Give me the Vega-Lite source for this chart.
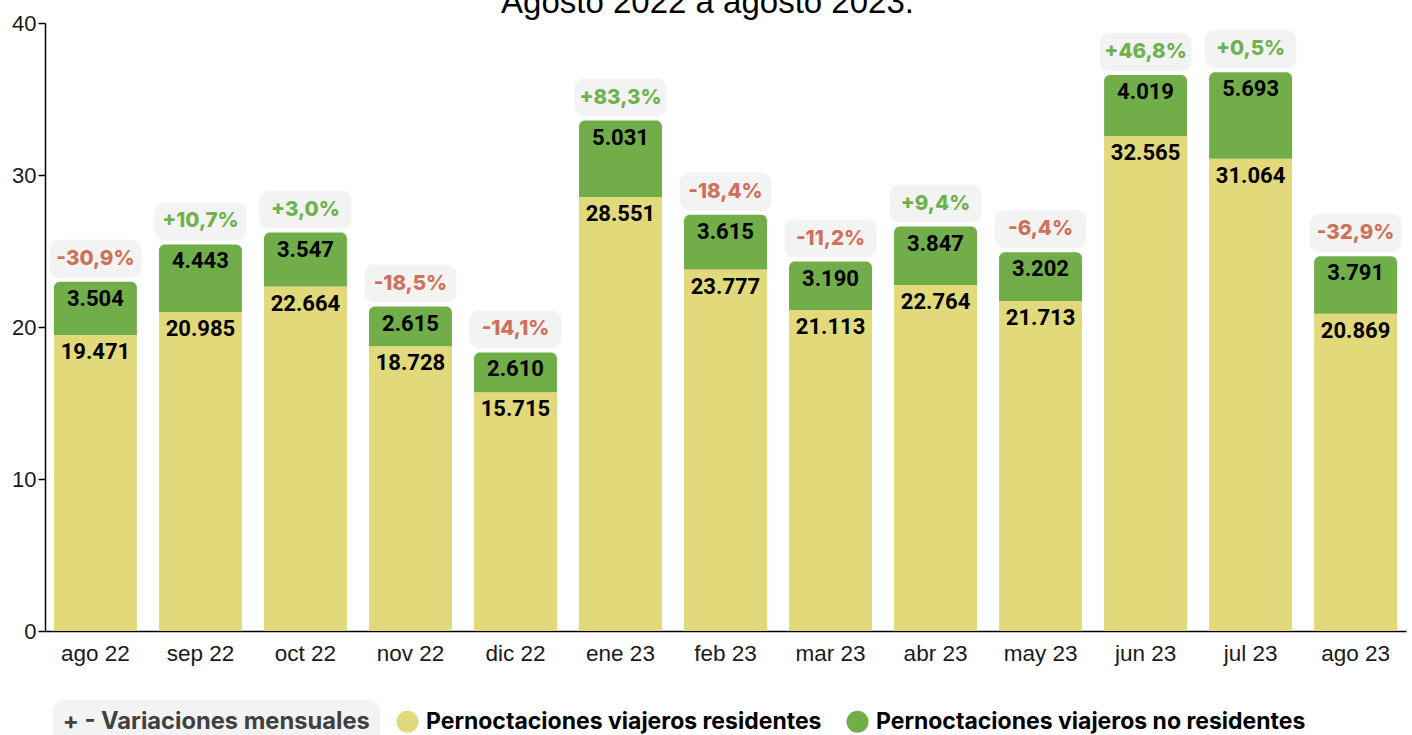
{
  "$schema": "https://vega.github.io/schema/vega-lite/v6.json",
  "width": 1361,
  "height": 608,
  "autosize": {"type": "none"},
  "padding": {"left": 45, "top": 23, "right": 6, "bottom": 104},
  "title": {
    "text": "Agosto 2022 a agosto 2023.",
    "font": "Liberation Sans",
    "fontSize": 33,
    "fontWeight": "normal",
    "color": "#000000",
    "anchor": "middle",
    "baseline": "alphabetic",
    "offset": 0,
    "dx": -18,
    "dy": 34
  },
  "data": {
    "values": [
      {"mes": "ago 22", "tipo": "Pernoctaciones viajeros residentes", "value": 19471, "var": -0.309},
      {"mes": "ago 22", "tipo": "Pernoctaciones viajeros no residentes", "value": 3504, "var": -0.309},
      {"mes": "sep 22", "tipo": "Pernoctaciones viajeros residentes", "value": 20985, "var": 0.107},
      {"mes": "sep 22", "tipo": "Pernoctaciones viajeros no residentes", "value": 4443, "var": 0.107},
      {"mes": "oct 22", "tipo": "Pernoctaciones viajeros residentes", "value": 22664, "var": 0.030},
      {"mes": "oct 22", "tipo": "Pernoctaciones viajeros no residentes", "value": 3547, "var": 0.030},
      {"mes": "nov 22", "tipo": "Pernoctaciones viajeros residentes", "value": 18728, "var": -0.185},
      {"mes": "nov 22", "tipo": "Pernoctaciones viajeros no residentes", "value": 2615, "var": -0.185},
      {"mes": "dic 22", "tipo": "Pernoctaciones viajeros residentes", "value": 15715, "var": -0.141},
      {"mes": "dic 22", "tipo": "Pernoctaciones viajeros no residentes", "value": 2610, "var": -0.141},
      {"mes": "ene 23", "tipo": "Pernoctaciones viajeros residentes", "value": 28551, "var": 0.833},
      {"mes": "ene 23", "tipo": "Pernoctaciones viajeros no residentes", "value": 5031, "var": 0.833},
      {"mes": "feb 23", "tipo": "Pernoctaciones viajeros residentes", "value": 23777, "var": -0.184},
      {"mes": "feb 23", "tipo": "Pernoctaciones viajeros no residentes", "value": 3615, "var": -0.184},
      {"mes": "mar 23", "tipo": "Pernoctaciones viajeros residentes", "value": 21113, "var": -0.112},
      {"mes": "mar 23", "tipo": "Pernoctaciones viajeros no residentes", "value": 3190, "var": -0.112},
      {"mes": "abr 23", "tipo": "Pernoctaciones viajeros residentes", "value": 22764, "var": 0.094},
      {"mes": "abr 23", "tipo": "Pernoctaciones viajeros no residentes", "value": 3847, "var": 0.094},
      {"mes": "may 23", "tipo": "Pernoctaciones viajeros residentes", "value": 21713, "var": -0.064},
      {"mes": "may 23", "tipo": "Pernoctaciones viajeros no residentes", "value": 3202, "var": -0.064},
      {"mes": "jun 23", "tipo": "Pernoctaciones viajeros residentes", "value": 32565, "var": 0.468},
      {"mes": "jun 23", "tipo": "Pernoctaciones viajeros no residentes", "value": 4019, "var": 0.468},
      {"mes": "jul 23", "tipo": "Pernoctaciones viajeros residentes", "value": 31064, "var": 0.005},
      {"mes": "jul 23", "tipo": "Pernoctaciones viajeros no residentes", "value": 5693, "var": 0.005},
      {"mes": "ago 23", "tipo": "Pernoctaciones viajeros residentes", "value": 20869, "var": -0.329},
      {"mes": "ago 23", "tipo": "Pernoctaciones viajeros no residentes", "value": 3791, "var": -0.329}
    ]
  },
  "transform": [
    {"stack": "value", "groupby": ["mes"], "sort": [{"field": "tipo", "order": "descending"}], "as": ["v0", "v1"]}
  ],
  "encoding": {
    "x": {
      "field": "mes",
      "type": "nominal",
      "sort": null,
      "title": null,
      "scale": {
        "domain": ["ago 22", "sep 22", "oct 22", "nov 22", "dic 22", "ene 23", "feb 23", "mar 23", "abr 23", "may 23", "jun 23", "jul 23", "ago 23"],
        "paddingInner": 0.21,
        "paddingOuter": 0.085
      },
      "axis": {
        "labelAngle": 0,
        "labelFont": "Liberation Sans",
        "labelFontSize": 22.5,
        "labelColor": "#1a1a1a",
        "labelPadding": 11,
        "ticks": false,
        "tickSize": 0,
        "domainColor": "#000000",
        "domainWidth": 1.5
      }
    }
  },
  "layer": [
    {
      "transform": [{"filter": "datum.tipo === 'Pernoctaciones viajeros residentes'"}],
      "mark": {"type": "bar"},
      "encoding": {
        "y": {
          "field": "v0",
          "type": "quantitative",
          "title": null,
          "scale": {"domain": [0, 40000]},
          "axis": {
            "values": [0, 10000, 20000, 30000, 40000],
            "labelExpr": "datum.value / 1000",
            "grid": false,
            "labelFont": "Liberation Sans",
            "labelFontSize": 22,
            "labelColor": "#1a1a1a",
            "labelPadding": 2,
            "tickSize": 7,
            "tickColor": "#000000",
            "tickWidth": 1.5,
            "domainColor": "#000000",
            "domainWidth": 1.5
          }
        },
        "y2": {"field": "v1"},
        "color": {
          "field": "tipo",
          "type": "nominal",
          "scale": {
            "domain": ["Pernoctaciones viajeros residentes", "Pernoctaciones viajeros no residentes"],
            "range": ["#e2d97a", "#71ae49"]
          },
          "legend": {
            "orient": "none",
            "legendX": 351,
            "legendY": 687,
            "direction": "horizontal",
            "title": null,
            "symbolType": "circle",
            "symbolSize": 484,
            "symbolStrokeWidth": 0,
            "symbolOpacity": 1,
            "labelFont": "Inter",
            "labelFontSize": 23,
            "labelFontWeight": "bold",
            "labelColor": "#000000",
            "labelOffset": 7,
            "labelLimit": 0,
            "columnPadding": 24,
            "padding": 0
          }
        }
      }
    },
    {
      "transform": [{"filter": "datum.tipo === 'Pernoctaciones viajeros no residentes'"}],
      "mark": {"type": "bar", "cornerRadiusTopLeft": 6, "cornerRadiusTopRight": 6},
      "encoding": {
        "y": {"field": "v0", "type": "quantitative", "title": null},
        "y2": {"field": "v1"},
        "color": {"field": "tipo", "type": "nominal"}
      }
    },
    {
      "mark": {"type": "text", "baseline": "middle", "dy": 17, "font": "Roboto", "fontWeight": "bold", "fontSize": 22, "color": "#000000"},
      "encoding": {
        "y": {"field": "v1", "type": "quantitative", "title": null},
        "text": {"field": "value", "type": "quantitative", "format": ","}
      }
    },
    {
      "transform": [
        {"aggregate": [{"op": "sum", "field": "value", "as": "total"}, {"op": "max", "field": "var", "as": "var"}], "groupby": ["mes"]}
      ],
      "mark": {"type": "bar", "width": 92, "cornerRadius": 10, "yOffset": -42, "y2Offset": -4},
      "encoding": {
        "y": {"field": "total", "type": "quantitative", "title": null},
        "y2": {"field": "total"},
        "fill": {
          "datum": "+ - Variaciones mensuales",
          "type": "nominal",
          "scale": {"range": ["#f3f3f3"]},
          "legend": {
            "orient": "none",
            "legendX": 8,
            "legendY": 677,
            "direction": "horizontal",
            "title": null,
            "fillColor": "#f3f3f3",
            "cornerRadius": 10,
            "padding": 10,
            "symbolSize": 0.01,
            "symbolOpacity": 0,
            "symbolStrokeWidth": 0,
            "labelOffset": -24,
            "labelFont": "Inter",
            "labelFontSize": 23.7,
            "labelFontWeight": "bold",
            "labelColor": "#404040",
            "labelLimit": 0
          }
        }
      }
    },
    {
      "transform": [
        {"aggregate": [{"op": "sum", "field": "value", "as": "total"}, {"op": "max", "field": "var", "as": "var"}], "groupby": ["mes"]}
      ],
      "mark": {"type": "text", "baseline": "middle", "dy": -23, "font": "Inter", "fontWeight": 800, "fontSize": 20.5},
      "encoding": {
        "y": {"field": "total", "type": "quantitative", "title": null},
        "text": {"field": "var", "type": "quantitative", "format": "+.1%"},
        "color": {"condition": {"test": "datum['var'] < 0", "value": "#d0705a"}, "value": "#6db24a"}
      }
    }
  ],
  "config": {
    "view": {"stroke": null},
    "locale": {
      "number": {"decimal": ",", "thousands": ".", "grouping": [3], "currency": ["", " €"], "minus": "-"}
    }
  }
}
